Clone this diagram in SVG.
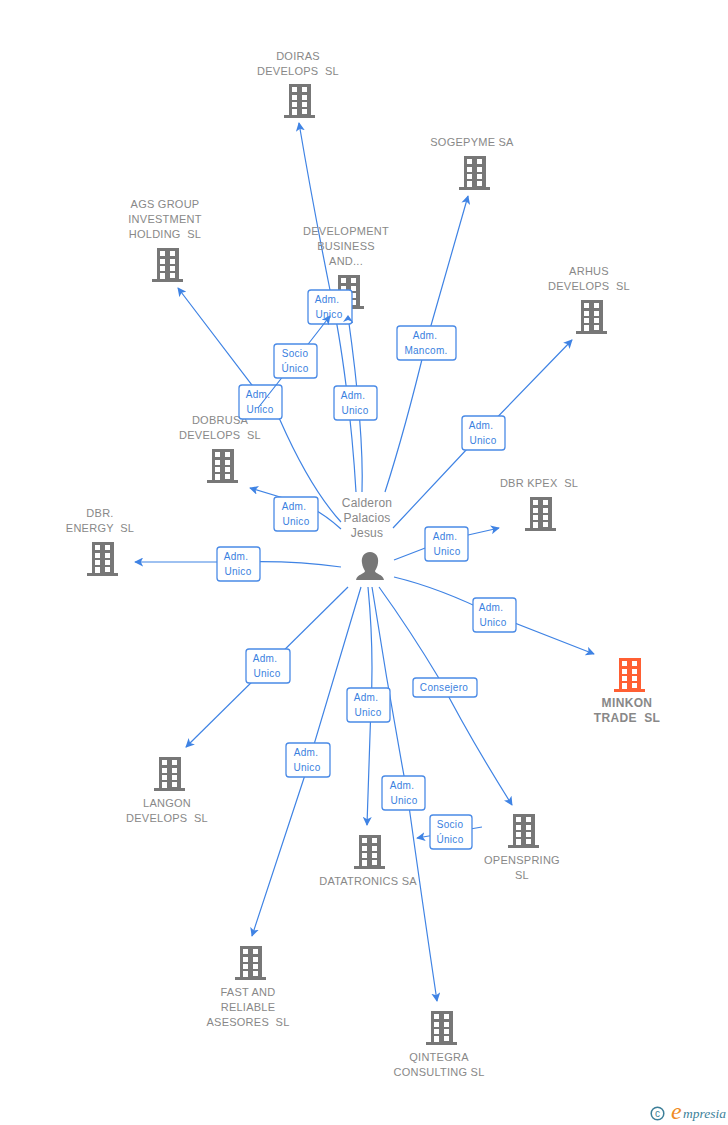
<svg xmlns="http://www.w3.org/2000/svg" width="728" height="1125" viewBox="0 0 728 1125">
<style>
text{font-family:"Liberation Sans",Arial,sans-serif;white-space:pre}
.n{font-size:11px;fill:#888;text-anchor:middle;letter-spacing:.25px}
.p{font-size:12px;fill:#888;text-anchor:middle;letter-spacing:.2px}
.h{font-size:12px;font-weight:bold;fill:#888;text-anchor:middle;letter-spacing:.35px}
.l{font-size:10px;fill:#3a7fe0;text-anchor:middle;letter-spacing:.3px}
.b{fill:#fff;stroke:#4a8ae6;stroke-width:1.3}
.e{fill:none;stroke:#3f83e4;stroke-width:1.2;marker-end:url(#a)}
.g{fill:#777}
.o{fill:#ff5f33}
</style>
<defs>
<marker id="a" viewBox="0 0 10 10" refX="9" refY="5" markerWidth="9" markerHeight="9" markerUnits="userSpaceOnUse" orient="auto"><path d="M0 0L10 5L0 10L2.500 5Z" fill="#3f83e4"/></marker>
<path id="bld" fill-rule="evenodd" d="M5 0H27V31H31V34H0V31H5ZM8 3V8H13V3ZM18 3V8H23V3ZM8 11V16H13V11ZM18 11V16H23V11ZM8 18V23H13V18ZM18 18V23H23V18ZM8 25V31H13V25ZM18 25V30H23V25Z"/>
</defs>
<g id="connectors-under">
<path class="e" d="M356 492Q353 440 346 385T330 290Q312 200 299 123"/>
<path class="e" d="M362 492Q364 430 348 316"/>
<path class="e" d="M341 522Q310 488 280 420Q265 400 252 385L178 288"/>
<path class="e" d="M341 529Q320 510 300 503L250 488"/>
<path class="e" d="M341 567Q290 560 238 562L135 562"/>
<path class="e" d="M348 587L186 747"/>
<path class="e" d="M361 587Q330 690 304 778L252 936"/>
<path class="e" d="M368 587Q374 650 371 705L367 825"/>
<path class="e" d="M372 587Q388 690 407 792Q422 900 437 1001"/>
<path class="e" d="M379 587Q410 630 440 680Q468 735 512 805"/>
<path class="e" d="M482 827L417 838"/>
<path class="e" d="M394 577Q440 588 494 615L594 654"/>
<path class="e" d="M394 560L446 540L499 528"/>
<path class="e" d="M393 528L482 433L572 340"/>
<path class="e" d="M385 492Q405 430 426 343L468 196"/>
</g>
<g id="n-doiras"><use href="#bld" class="g" x="284" y="84"/><text class="n" x="298" y="60">DOIRAS</text><text class="n" x="298" y="75">DEVELOPS  SL</text></g>
<g id="n-sogepyme"><use href="#bld" class="g" x="459" y="156"/><text class="n" x="472" y="146">SOGEPYME SA</text></g>
<g id="n-ags"><use href="#bld" class="g" x="152" y="248"/><text class="n" x="165" y="208">AGS GROUP</text><text class="n" x="165" y="223">INVESTMENT</text><text class="n" x="165" y="238">HOLDING  SL</text></g>
<g id="n-development"><use href="#bld" class="g" x="333" y="275"/><text class="n" x="346" y="235">DEVELOPMENT</text><text class="n" x="346" y="250">BUSINESS</text><text class="n" x="346" y="265">AND...</text></g>
<g id="n-arhus"><use href="#bld" class="g" x="576" y="300"/><text class="n" x="589" y="275">ARHUS</text><text class="n" x="589" y="290">DEVELOPS  SL</text></g>
<g id="n-dobrusa"><use href="#bld" class="g" x="207" y="449"/><text class="n" x="220" y="424">DOBRUSA</text><text class="n" x="220" y="439">DEVELOPS  SL</text></g>
<g id="n-kpex"><use href="#bld" class="g" x="525" y="497"/><text class="n" x="539" y="487">DBR KPEX  SL</text></g>
<g id="n-energy"><use href="#bld" class="g" x="87" y="542"/><text class="n" x="100" y="517">DBR.</text><text class="n" x="100" y="532">ENERGY  SL</text></g>
<g id="n-minkon"><use href="#bld" class="o" x="614" y="658"/><text class="h" x="627" y="707">MINKON</text><text class="h" x="627" y="722">TRADE  SL</text></g>
<g id="n-langon"><use href="#bld" class="g" x="154" y="757"/><text class="n" x="167" y="807">LANGON</text><text class="n" x="167" y="822">DEVELOPS  SL</text></g>
<g id="n-datatronics"><use href="#bld" class="g" x="354" y="835"/><text class="n" x="368" y="885">DATATRONICS SA</text></g>
<g id="n-openspring"><use href="#bld" class="g" x="508" y="814"/><text class="n" x="522" y="864">OPENSPRING</text><text class="n" x="522" y="879">SL</text></g>
<g id="n-fast"><use href="#bld" class="g" x="235" y="946"/><text class="n" x="248" y="996">FAST AND</text><text class="n" x="248" y="1011">RELIABLE</text><text class="n" x="248" y="1026">ASESORES  SL</text></g>
<g id="n-qintegra"><use href="#bld" class="g" x="426" y="1011"/><text class="n" x="439" y="1061">QINTEGRA</text><text class="n" x="439" y="1076">CONSULTING SL</text></g>
<g id="n-person"><text class="p" x="367" y="507">Calderon</text><text class="p" x="367" y="522">Palacios</text><text class="p" x="367" y="537">Jesus</text><path fill="#777" d="M370 552C376 552 379 557 378 563C377.500 567 376 569 375 571C375 574 383 574 384 580H356C357 574 365 574 365 571C364 569 362.500 567 362 563C361 557 364 552 370 552Z"/></g>
<g id="labels">
<g><rect class="b" x="308" y="290" width="44" height="34" rx="3"/><text class="l" x="327" y="303">Adm.</text><text class="l" x="329" y="318">Unico</text></g>
<g><rect class="b" x="239" y="385" width="43" height="34" rx="3"/><text class="l" x="258" y="398">Adm.</text><text class="l" x="260" y="413">Unico</text></g>
<g><rect class="b" x="334" y="386" width="43" height="34" rx="3"/><text class="l" x="353" y="399">Adm.</text><text class="l" x="355" y="414">Unico</text></g>
<g><rect class="b" x="397" y="326" width="59" height="34" rx="3"/><text class="l" x="425" y="339">Adm.</text><text class="l" x="426" y="354">Mancom.</text></g>
<g><rect class="b" x="462" y="416" width="43" height="34" rx="3"/><text class="l" x="481" y="429">Adm.</text><text class="l" x="483" y="444">Unico</text></g>
<g><rect class="b" x="274" y="497" width="44" height="34" rx="3"/><text class="l" x="294" y="510">Adm.</text><text class="l" x="296" y="525">Unico</text></g>
<g><rect class="b" x="425" y="527" width="43" height="34" rx="3"/><text class="l" x="445" y="540">Adm.</text><text class="l" x="447" y="555">Unico</text></g>
<g><rect class="b" x="217" y="547" width="43" height="34" rx="3"/><text class="l" x="236" y="560">Adm.</text><text class="l" x="238" y="575">Unico</text></g>
<g><rect class="b" x="473" y="598" width="43" height="34" rx="3"/><text class="l" x="491" y="611">Adm.</text><text class="l" x="493" y="626">Unico</text></g>
<g><rect class="b" x="246" y="649" width="44" height="34" rx="3"/><text class="l" x="265" y="662">Adm.</text><text class="l" x="267" y="677">Unico</text></g>
<g><rect class="b" x="413" y="678" width="64" height="19" rx="3"/><text class="l" x="444" y="691">Consejero</text></g>
<g><rect class="b" x="347" y="688" width="43" height="34" rx="3"/><text class="l" x="366" y="701">Adm.</text><text class="l" x="368" y="716">Unico</text></g>
<g><rect class="b" x="286" y="743" width="44" height="34" rx="3"/><text class="l" x="306" y="756">Adm.</text><text class="l" x="307" y="771">Unico</text></g>
<g><rect class="b" x="382" y="776" width="43" height="34" rx="3"/><text class="l" x="402" y="789">Adm.</text><text class="l" x="404" y="804">Unico</text></g>
<g><rect class="b" x="430" y="815" width="42" height="34" rx="3"/><text class="l" x="450" y="828">Socio</text><text class="l" x="450" y="843">Único</text></g>
</g>
<g id="connectors-over">
<path class="e" d="M258 408L295 361L330 316"/>
<path fill="#3f83e4" d="M343 322L348 315L353 322L348 320Z"/>
</g>
<g id="label-socio"><rect class="b" x="274" y="344" width="43" height="34" rx="3"/><text class="l" x="295" y="357">Socio</text><text class="l" x="295" y="372">Único</text></g>
<g id="logo">
<circle cx="657.500" cy="1113.500" r="6.300" fill="none" stroke="#3d7f99" stroke-width="1.500"/>
<text x="657.500" y="1117" text-anchor="middle" style="font-size:10px;fill:#3d7f99">c</text>
<text x="671" y="1119" style="font-family:'Liberation Serif',serif;font-size:24px;font-style:italic;fill:#f08a24">e</text>
<text x="683" y="1118" style="font-family:'Liberation Serif',serif;font-size:13.500px;font-style:italic;fill:#3d7f99">mpresia</text>
</g>
</svg>
